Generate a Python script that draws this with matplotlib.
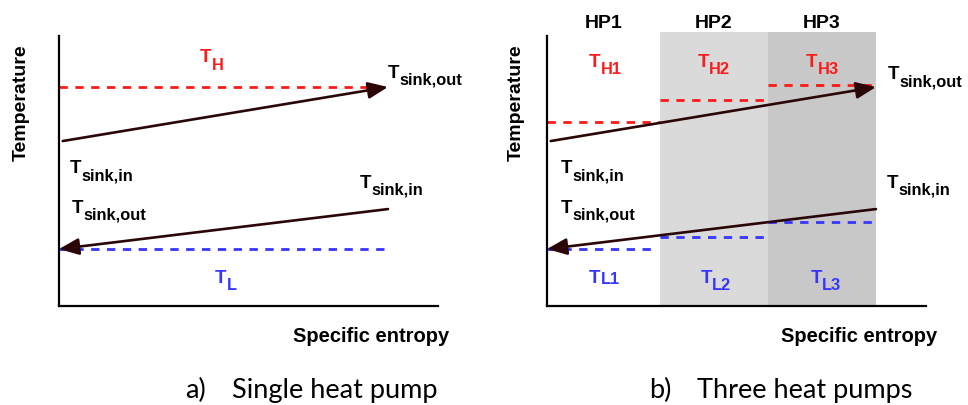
import matplotlib
matplotlib.use("Agg")
from matplotlib import pyplot as plt
from matplotlib.patches import FancyArrowPatch

# entropy / temperature in arbitrary units (0..10)
S_START = 0.1
S_END = 8.68
SINK_IN_HOT = 6.11
SINK_OUT_HOT = 8.11
SOURCE_IN = 3.59
SOURCE_OUT = 2.11

# single heat pump levels
T_H = 8.11
T_L = 2.11

# three heat pumps: segment borders and levels
hp_names = ["HP1", "HP2", "HP3"]
hp_edges = [0.0, 2.97, 5.82, 8.68]
hp_colors = ["white", "#dadada", "#c8c8c8"]
t_high = [6.81, 7.63, 8.19]
t_low = [2.11, 2.56, 3.11]
t_low_end1 = 2.85

RED = "#ff1a1a"
BLUE = "#3535ff"
ARROW = "#2a0606"
FONT = "Liberation Sans"

fig = plt.figure(figsize=(9.68, 4.06), dpi=100)


def make_axes(left_px):
    ax = fig.add_axes([left_px / 968, 99 / 406, 379 / 968, 270 / 406])
    ax.set_xlim(0, 10)
    ax.set_ylim(0, 10)
    for side in ["top", "right"]:
        ax.spines[side].set_visible(False)
    for side in ["left", "bottom"]:
        ax.spines[side].set_linewidth(1.6)
    ax.set_xticks([])
    ax.set_yticks([])
    ax.patch.set_alpha(0)
    return ax


def tlabel(ax, x, y, sub, color="black", dy=5):
    ax.text(x, y, "T", fontsize=13.5, fontweight="bold", family=FONT,
            color=color, ha="left", va="baseline")
    ax.annotate(sub, xy=(x, y), xytext=(8.4, -dy), textcoords="offset points",
                fontsize=11.8, fontweight="bold", family=FONT, color=color,
                ha="left", va="baseline")


def arrow(ax, p0, p1):
    ax.add_patch(FancyArrowPatch(p0, p1, arrowstyle="-|>,head_length=1.0,head_width=0.42",
                                 mutation_scale=12, color=ARROW, lw=1.9,
                                 shrinkA=0, shrinkB=0, zorder=5))


def axis_names(ax, temp_x):
    ax.text(temp_x, 0.755, "Temperature", transform=ax.transAxes, rotation=90,
            fontsize=14, fontweight="bold", family=FONT, ha="center", va="center")
    ax.text(1.03, -0.129, "Specific entropy", transform=ax.transAxes,
            fontsize=14.5, fontweight="bold", family=FONT, ha="right", va="baseline")


dash = (0, (3.0, 2.7))
DLW = 2.0

# ---- a) single heat pump
ax1 = make_axes(59)
ax1.plot([0, S_END], [T_H, T_H], color=RED, lw=DLW, ls=dash)
ax1.plot([0, S_END], [T_L, T_L], color=BLUE, lw=DLW, ls=dash)
arrow(ax1, (S_START, SINK_IN_HOT), (S_END, SINK_OUT_HOT))
arrow(ax1, (S_END, SOURCE_IN), (S_START - 0.1, SOURCE_OUT))
tlabel(ax1, 3.72, 9.07, "H", RED, dy=5.5)
tlabel(ax1, 8.68, 8.48, "sink,out")
tlabel(ax1, 0.29, 4.96, "sink,in")
tlabel(ax1, 0.34, 3.48, "sink,out")
tlabel(ax1, 7.94, 4.41, "sink,in")
tlabel(ax1, 4.12, 0.89, "L", BLUE)
axis_names(ax1, -0.1)

# ---- b) three heat pumps
ax2 = make_axes(547)
for i in range(3):
    ax2.axvspan(hp_edges[i], hp_edges[i + 1], ymin=0, ymax=1.015, color=hp_colors[i],
                lw=0, zorder=0, clip_on=False)
    ax2.text((hp_edges[i] + hp_edges[i + 1]) / 2, 10.33, hp_names[i],
             fontsize=14, fontweight="bold", family=FONT, ha="center", va="baseline")
    ax2.plot([hp_edges[i], hp_edges[i + 1]], [t_high[i], t_high[i]], color=RED, lw=DLW, ls=dash)
    x_end = t_low_end1 if i == 0 else hp_edges[i + 1]
    ax2.plot([hp_edges[i], x_end], [t_low[i], t_low[i]], color=BLUE, lw=DLW, ls=dash)
arrow(ax2, (S_START, SINK_IN_HOT), (S_END, SINK_OUT_HOT))
arrow(ax2, (S_END, SOURCE_IN), (S_START - 0.1, SOURCE_OUT))
tlabel(ax2, 1.11, 8.89, "H1", RED)
tlabel(ax2, 3.97, 8.89, "H2", RED)
tlabel(ax2, 6.84, 8.89, "H3", RED)
tlabel(ax2, 9.0, 8.44, "sink,out")
tlabel(ax2, 0.37, 4.96, "sink,in")
tlabel(ax2, 0.37, 3.48, "sink,out")
tlabel(ax2, 8.97, 4.41, "sink,in")
tlabel(ax2, 1.11, 0.89, "L1", BLUE, dy=0.8)
tlabel(ax2, 4.05, 0.89, "L2", BLUE)
tlabel(ax2, 6.95, 0.89, "L3", BLUE)
axis_names(ax2, -0.08)

# captions
for x_tag, x_txt, tag, txt in [(185, 232, "a)", "Single heat pump"),
                                (649, 697, "b)", "Three heat pumps")]:
    fig.text(x_tag / 968, 8 / 406, tag, fontsize=19.5, family="Lato", va="baseline")
    fig.text(x_txt / 968, 8 / 406, txt, fontsize=19.5, family="Lato", va="baseline")

fig.savefig("out.png", dpi=100)
